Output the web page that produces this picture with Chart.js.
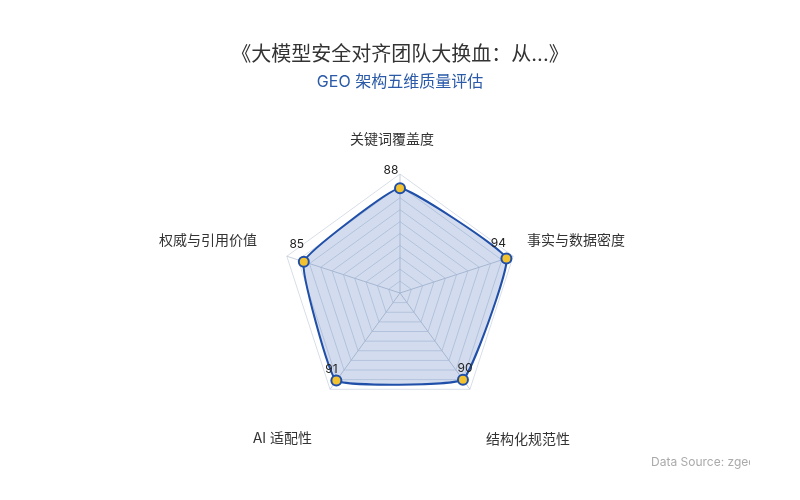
<!DOCTYPE html>
<html><head><meta charset="utf-8">
<script src="https://cdn.jsdelivr.net/npm/chart.js@4"></script>
<style>html,body{margin:0;padding:0;background:#fff}#wrap{width:800px;height:500px}</style>
</head><body><div id="wrap"><canvas id="c" width="800" height="500"></canvas></div>
<script>
const titleText = '《大模型安全对齐团队大换血：从...》';
const subtitleText = 'GEO 架构五维质量评估';
const categories = ['关键词覆盖度', '事实与数据密度', '结构化规范性', 'AI 适配性', '权威与引用价值'];
const scores = [88, 94, 90, 91, 85];
const sourceText = 'Data Source: zgeo.cn';
const FONT = "Inter, 'Noto Sans CJK SC', sans-serif";

// Axis-name placement relative to the radar centre: [dx, dy, align]
const axisNamePlacement = [[-8, -153, 'center'], [127, -52, 'left'], [86, 147, 'left'], [-88, 146, 'right'], [-143, -52, 'right']];
// Value-label offset from each point: [dx, dy]
const valueLabelOffset = [[-9, -18], [-8, -15], [2, -11], [-5, -11], [-7, -17]];

const axisNames = {
  id: 'axisNames',
  afterDraw(chart) {
    const s = chart.scales.r;
    const ctx = chart.ctx;
    ctx.save();
    ctx.font = '14px ' + FONT;
    ctx.fillStyle = '#333';
    ctx.textBaseline = 'middle';
    chart.data.labels.forEach((lab, i) => {
      const p = axisNamePlacement[i];
      ctx.textAlign = p[2];
      ctx.fillText(lab, s.xCenter + p[0], s.yCenter + p[1]);
    });
    ctx.restore();
  }
};
const valueLabels = {
  id: 'valueLabels',
  afterDatasetsDraw(chart) {
    const ctx = chart.ctx;
    const meta = chart.getDatasetMeta(0);
    ctx.save();
    ctx.font = '12px ' + FONT;
    ctx.fillStyle = '#222';
    ctx.textAlign = 'center';
    ctx.textBaseline = 'middle';
    meta.data.forEach((pt, i) => {
      const o = valueLabelOffset[i];
      ctx.fillText(String(chart.data.datasets[0].data[i]), pt.x + o[0], pt.y + o[1]);
    });
    ctx.restore();
  }
};
const sourceNote = {
  id: 'sourceNote',
  afterDraw(chart) {
    const ctx = chart.ctx;
    ctx.save();
    ctx.beginPath();
    ctx.rect(0, 0, 750, 500);
    ctx.clip();
    ctx.font = '12px ' + FONT;
    ctx.fillStyle = '#aaa';
    ctx.textAlign = 'left';
    ctx.textBaseline = 'middle';
    ctx.fillText(sourceText, 651, 462);
    ctx.restore();
  }
};

new Chart(document.getElementById('c'), {
  type: 'radar',
  data: {
    labels: categories,
    datasets: [{
      data: scores,
      borderColor: '#1f4fa8',
      backgroundColor: 'rgba(31,79,168,0.2)',
      borderWidth: 2,
      fill: true,
      tension: 0.1,
      pointRadius: 5,
      pointBackgroundColor: '#f2c230',
      pointBorderColor: '#1f4fa8',
      pointBorderWidth: 2
    }]
  },
  options: {
    responsive: false,
    animation: false,
    layout: { padding: { top: 0, bottom: 87, left: 0, right: 0 } },
    plugins: {
      legend: { display: false },
      tooltip: { enabled: false },
      title: { display: true, text: titleText, color: '#333', font: { size: 20, family: FONT, weight: 'normal', lineHeight: 1.2 }, padding: { top: 43, bottom: 6 } },
      subtitle: { display: true, text: subtitleText, color: '#2a5aa8', font: { size: 16, family: FONT, lineHeight: 1.2 }, padding: { top: 0, bottom: 81 } }
    },
    scales: {
      r: {
        min: 0, max: 100,
        ticks: { display: false, stepSize: 10 },
        grid: { color: '#d8dee8' },
        angleLines: { color: '#c8cfdb' },
        pointLabels: { display: false }
      }
    }
  },
  plugins: [valueLabels, axisNames, sourceNote]
});
</script></body></html>
